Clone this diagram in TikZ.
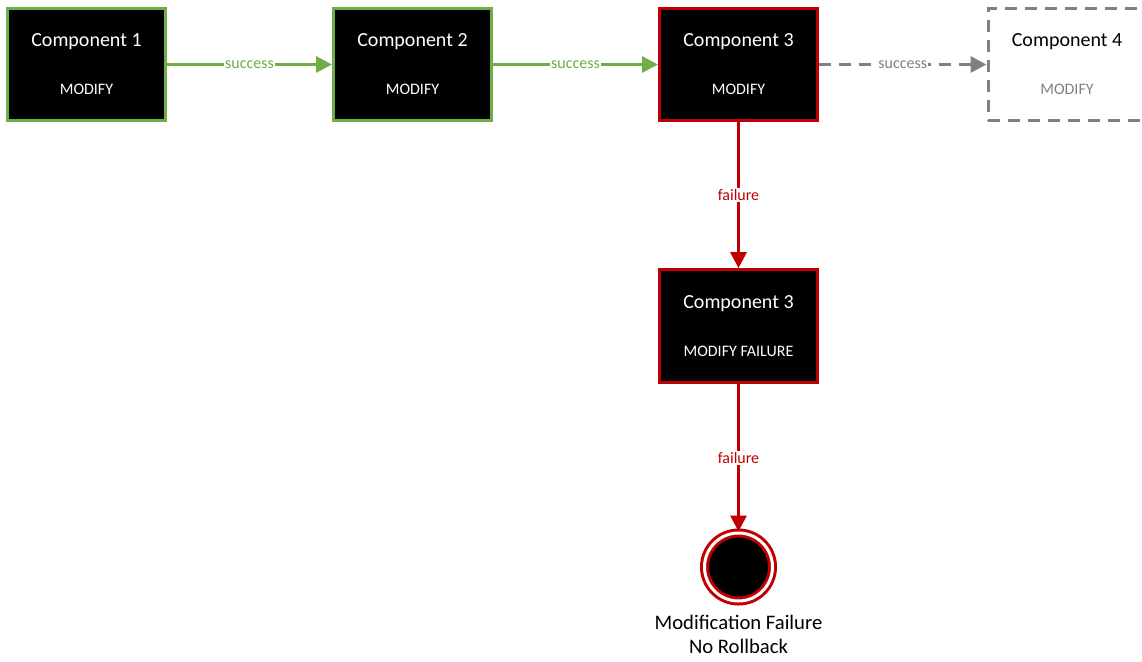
\documentclass[tikz,border=0pt]{standalone}
\usepackage{fontspec}
\setmainfont{Carlito}
\usetikzlibrary{arrows.meta}

\definecolor{okgreen}{RGB}{112,173,71}
\definecolor{failred}{RGB}{192,0,0}
\definecolor{skipgray}{RGB}{128,128,128}

\tikzset{
  compbox/.style={rectangle, fill=black, text=white, line width=2.25pt,
    minimum width=118.5pt, minimum height=84.5pt, align=center, font=\fontsize{15}{18}\selectfont},
  okbox/.style={compbox, draw=okgreen},
  failbox/.style={compbox, draw=failred},
  ghostbox/.style={compbox, fill=white, text=black, draw=skipgray, dash pattern=on 9pt off 6pt},
  okarrow/.style={draw=okgreen, line width=2.25pt, -{Triangle[length=12pt,width=12pt]}},
  failarrow/.style={draw=failred, line width=2.25pt, -{Triangle[length=12pt,width=12pt]}},
  skiparrow/.style={draw=skipgray, line width=2.25pt, dash pattern=on 9pt off 6pt, -{Triangle[length=12pt,width=12pt]}},
  edgetext/.style={fill=white, inner sep=1pt, font=\fontsize{12}{14}\selectfont}
}
\newcommand{\opname}[1]{{\fontsize{12}{14}\selectfont #1}}

\begin{document}
\begin{tikzpicture}[x=0.75pt,y=0.75pt,yscale=-1,xscale=1]
\useasboundingbox (0,0) rectangle (1142,661);

%Components
\node [okbox] (comp1) at (86.5,64.5) {Component 1\\[18pt]\opname{MODIFY}};
\node [okbox] (comp2) at (412.5,64.5) {Component 2\\[18pt]\opname{MODIFY}};
\node [failbox] (comp3) at (738.5,64.5) {Component 3\\[18pt]\opname{MODIFY}};
\node [ghostbox] (comp4) at (1067,64.5) {Component 4\\[18pt]\opname{\color{skipgray}MODIFY}};
\node [failbox] (comp3fail) at (738.5,326) {Component 3\\[18pt]\opname{MODIFY FAILURE}};

%Final state
\node [circle, fill=black, draw=failred, line width=2.25pt, double=white, double distance=2.25pt, minimum size=51pt, inner sep=0pt] (stop) at (738.5,567) {};
\node [align=center, font=\fontsize{15.5}{18}\selectfont, anchor=north] (stoptext) at (738.5,610) {Modification Failure\\No Rollback};

%Connectors
\draw [okarrow] (comp1) -- node [edgetext, text=okgreen] (s12) {success} (comp2);
\draw [okarrow] (comp2) -- node [edgetext, text=okgreen] (s23) {success} (comp3);
\draw [skiparrow] (comp3) -- node [edgetext, text=skipgray] (s34) {success} (comp4);
\draw [failarrow] (comp3) -- node [edgetext, text=failred] (f33) {failure} (comp3fail);
\draw [failarrow] (comp3fail) -- node [edgetext, text=failred] (f3x) {failure} (stop);

\end{tikzpicture}
\end{document}
